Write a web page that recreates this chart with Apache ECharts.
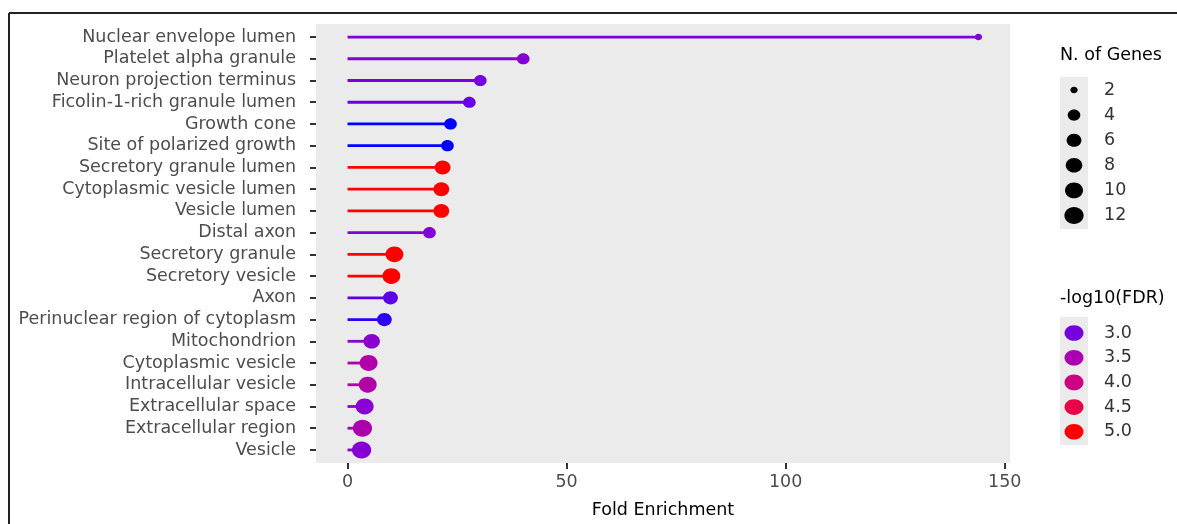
<!DOCTYPE html>
<html><head><meta charset="utf-8">
<script src="https://cdn.jsdelivr.net/npm/echarts@6/dist/echarts.min.js"></script>
<style>html,body{margin:0;padding:0;background:#fff}#c{width:1177px;height:524px}</style>
</head><body><div id="c"></div>
<script>
// ---- data ----
const categories = [
  'Nuclear envelope lumen','Platelet alpha granule','Neuron projection terminus',
  'Ficolin-1-rich granule lumen','Growth cone','Site of polarized growth',
  'Secretory granule lumen','Cytoplasmic vesicle lumen','Vesicle lumen','Distal axon',
  'Secretory granule','Secretory vesicle','Axon','Perinuclear region of cytoplasm',
  'Mitochondrion','Cytoplasmic vesicle','Intracellular vesicle','Extracellular space',
  'Extracellular region','Vesicle'
];
const foldEnrichment = [144, 40.1, 30.3, 27.8, 23.5, 22.8, 21.7, 21.4, 21.4, 18.7,
                        10.7, 10.0, 9.8, 8.4, 5.5, 4.8, 4.6, 3.9, 3.4, 3.2];
const geneCounts     = [2, 4, 4, 4, 4, 4, 7, 7, 7, 4, 10, 10, 6, 6, 8, 10, 10, 10, 12, 12];
const negLog10FDR    = [3.1, 3.15, 3.0, 2.95, 2.5, 2.5, 5.0, 5.0, 5.0, 3.1,
                        5.0, 5.0, 2.9, 2.7, 3.2, 3.6, 3.6, 3.2, 3.55, 3.15];
const xTicks = [0, 50, 100, 150];
const sizeLegendValues = [2, 4, 6, 8, 10, 12];
const colorLegendValues = [3.0, 3.5, 4.0, 4.5, 5.0];

// ---- scales (style) ----
const colorMin = 2.5, colorMax = 5.0;
const colorStops = ['#0000ff', '#7500e0', '#aa00b2', '#cc0082', '#e8004a', '#ff0000'];
const sizeMin = 2, sizeMax = 12;
function diam(n) { return 6.5 + 10.5 * Math.sqrt(Math.max(0, n - sizeMin) / (sizeMax - sizeMin)); }
function hex2rgb(h) { return [1, 3, 5].map(i => parseInt(h.substr(i, 2), 16)); }
function colorOf(v) {
  const t = Math.min(1, Math.max(0, (v - colorMin) / (colorMax - colorMin))) * (colorStops.length - 1);
  const i = Math.min(colorStops.length - 2, Math.floor(t)), f = t - i;
  const a = hex2rgb(colorStops[i]), b = hex2rgb(colorStops[i + 1]);
  return 'rgb(' + a.map((x, k) => Math.round(x + (b[k] - x) * f)).join(',') + ')';
}
const STRETCH = 1.13;
const FONT = 'DejaVu Sans, sans-serif';
const FS = 17.5;

const seriesData = categories.map((c, i) => [foldEnrichment[i], i, geneCounts[i], negLog10FDR[i]]);
const idx = categories.map((c, i) => i);

// legend graphics
const graphics = [
  { type: 'line', shape: { x1: 9, y1: 13, x2: 1177, y2: 13 }, style: { stroke: '#222', lineWidth: 2 } },
  { type: 'line', shape: { x1: 9, y1: 13, x2: 9, y2: 524 }, style: { stroke: '#222', lineWidth: 2 } },
  { type: 'text', x: 1060, y: 55, style: { text: 'N. of Genes', font: FS + 'px ' + FONT, fill: '#000', verticalAlign: 'middle' } },
  { type: 'rect', shape: { x: 1060, y: 77, width: 28, height: 152 }, style: { fill: '#ebebeb' } },
  { type: 'text', x: 1060, y: 298, style: { text: '-log10(FDR)', font: FS + 'px ' + FONT, fill: '#000', verticalAlign: 'middle' } },
  { type: 'rect', shape: { x: 1060, y: 317, width: 28, height: 128 }, style: { fill: '#ebebeb' } }
];
sizeLegendValues.forEach((v, k) => {
  const cy = 90 + k * 25.1, d = diam(v);
  graphics.push({ type: 'ellipse', shape: { cx: 1074, cy: cy, rx: d / 2 * STRETCH, ry: d / 2 }, style: { fill: '#000' } });
  graphics.push({ type: 'text', x: 1104, y: cy, style: { text: String(v), font: FS + 'px ' + FONT, fill: '#333', verticalAlign: 'middle' } });
});
colorLegendValues.forEach((v, k) => {
  const cy = 333 + k * 24.7;
  graphics.push({ type: 'ellipse', shape: { cx: 1074, cy: cy, rx: 9.5, ry: 7.8 }, style: { fill: colorOf(v) } });
  graphics.push({ type: 'text', x: 1104, y: cy, style: { text: v.toFixed(1), font: FS + 'px ' + FONT, fill: '#333', verticalAlign: 'middle' } });
});

const chart = echarts.init(document.getElementById('c'), null, { renderer: 'canvas' });
chart.setOption({
  animation: false,
  backgroundColor: '#fff',
  grid: { left: 316, right: 167, top: 24, bottom: 55, show: true, backgroundColor: '#ebebeb', borderWidth: 0 },
  xAxis: {
    type: 'value', min: -7.2, max: 151.2,
    axisLine: { show: false, onZero: false },
    splitLine: { show: false },
    axisTick: { show: true, customValues: xTicks, length: 6, lineStyle: { color: '#333', width: 2 } },
    axisLabel: { customValues: xTicks, color: '#4d4d4d', fontSize: FS, fontFamily: FONT, margin: 10 },
    name: 'Fold Enrichment', nameLocation: 'middle', nameGap: 38,
    nameTextStyle: { color: '#000', fontSize: FS, fontFamily: FONT }
  },
  yAxis: {
    type: 'value', min: -0.6, max: categories.length - 0.4, inverse: true,
    axisLine: { show: false, onZero: false },
    splitLine: { show: false },
    axisTick: { show: true, customValues: idx, length: 6, lineStyle: { color: '#333', width: 2 } },
    axisLabel: { customValues: idx, formatter: v => categories[Math.round(v)], color: '#4d4d4d',
                 fontSize: FS, fontFamily: FONT, margin: 20 }
  },
  visualMap: {
    show: false, type: 'continuous', dimension: 3, min: colorMin, max: colorMax,
    seriesIndex: 0, inRange: { color: colorStops }
  },
  series: [{
    type: 'custom',
    data: seriesData,
    encode: { x: 0, y: 1 },
    renderItem: function (params, api) {
      const x = api.value(0), y = api.value(1), n = api.value(2);
      const p0 = api.coord([0, y]), p1 = api.coord([x, y]);
      const c = api.visual('color');
      const d = diam(n);
      return {
        type: 'group',
        children: [
          { type: 'line', shape: { x1: p0[0], y1: p0[1], x2: p1[0], y2: p1[1] }, style: { stroke: c, lineWidth: 2.8 } },
          { type: 'ellipse', shape: { cx: p1[0], cy: p1[1], rx: d / 2 * STRETCH, ry: d / 2 }, style: { fill: c } }
        ]
      };
    }
  }],
  graphic: graphics
});
</script>
</body></html>
